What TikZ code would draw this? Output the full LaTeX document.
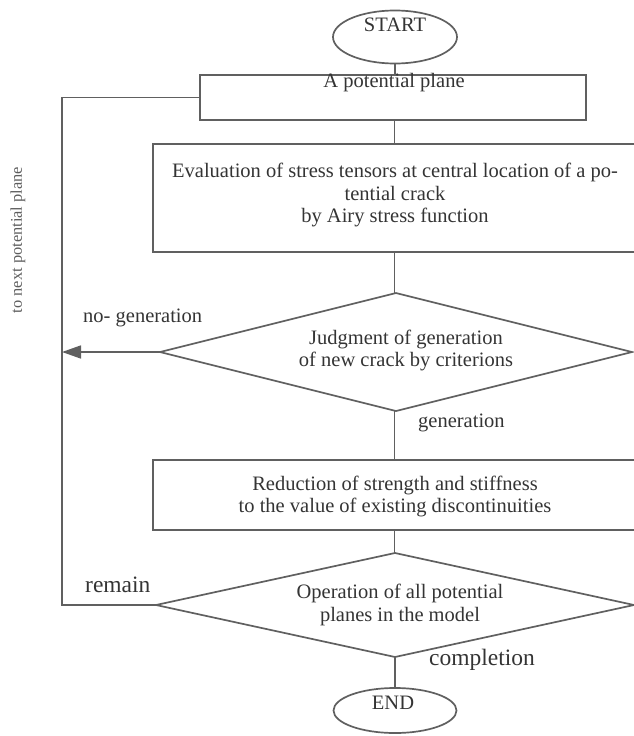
\documentclass[tikz,border=0pt]{standalone}
\usepackage{fontspec}
\setmainfont{Liberation Serif}
\usetikzlibrary{shapes.geometric,arrows.meta}
\definecolor{ln}{HTML}{606060}
\definecolor{tx}{HTML}{343434}
\begin{document}
\begin{tikzpicture}[x=1pt,y=-1pt,
  conn/.style={draw=ln,line width=1.7pt},
  boxshape/.style={draw=ln,line width=1.7pt,rectangle,inner sep=0pt,outer sep=0pt},
  ellshape/.style={draw=ln,line width=1.7pt,ellipse,inner sep=0pt,outer sep=0pt},
  diashape/.style={draw=ln,line width=1.7pt,diamond,inner sep=0pt,outer sep=0pt},
  body/.style={text=tx,font=\fontsize{20.5}{22.5}\selectfont,align=center,inner sep=0pt},
  lbl/.style={text=tx,font=\fontsize{23.5}{26}\selectfont,inner sep=0pt},
]
\useasboundingbox (0,0) rectangle (634,736);

% shapes
\node[ellshape,minimum width=124pt,minimum height=53pt] (start) at (395,37) {};
\node[boxshape,minimum width=386pt,minimum height=45pt] (b1) at (393,97.5) {};
\node[boxshape,minimum width=483pt,minimum height=108pt] (b2) at (394.5,198) {};
\node[diashape,minimum width=472pt,minimum height=118pt] (d1) at (396,352) {};
\node[boxshape,minimum width=483pt,minimum height=70pt] (b3) at (394.5,495) {};
\node[diashape,minimum width=478pt,minimum height=104pt] (d2) at (395,605) {};
\node[ellshape,minimum width=123pt,minimum height=45pt] (end) at (395,710.5) {};

% texts
\node[body] (tstart) at (395,25) {START};
\node[body] (tb1) at (394,83) {A potential plane};
\node[body] (tb2) at (395,195) {Evaluation of stress tensors at central location of a po-\\tential crack\\by Airy stress function};
\node[body] (td1) at (406,350.5) {Judgment of generation\\of new crack by criterions};
\node[body] (tb3) at (395,496.5) {Reduction of strength and stiffness\\to the value of existing discontinuities};
\node[body] (td2) at (400,605) {Operation of all potential\\planes in the model};
\node[body] (tend) at (393,703) {END};

% labels
\node[body,anchor=west] (lgen) at (418,423) {generation};
\node[body,anchor=west] (lnogen) at (83,318) {no- generation};
\node[lbl,anchor=west] (lrem) at (85,585) {remain};
\node[lbl,anchor=west] (lcomp) at (429,660) {completion};
\node[text=tx!80,font=\fontsize{16.4}{18}\selectfont,rotate=90,inner sep=0pt] (lnext) at (18,240) {to next potential plane};

% connectors
\coordinate (lp) at (62,352);
\coordinate (lb) at (62,605);
\draw[conn] (start.south) -- (b1.north -| start.south);
\draw[conn] (b1.south -| b2.north) -- (b2.north);
\draw[conn] (b2.south) -- (d1.north -| b2.south);
\draw[conn] (d1.south -| b2.south) -- (b3.north);
\draw[conn] (b3.south) -- (d2.north -| b3.south);
\draw[conn] (d2.south) -- (end.north);
\draw[conn,-{Triangle[length=19pt,width=13pt]}] (d1.west) -- (lp);
\draw[conn] (d2.west) -- (lb) |- (b1.west);
\end{tikzpicture}
\end{document}
